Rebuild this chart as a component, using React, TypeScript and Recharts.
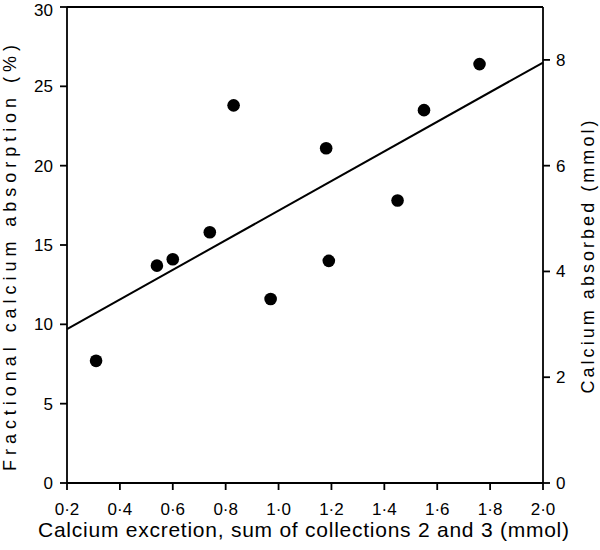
import React from "react";
import {
  ScatterChart,
  Scatter,
  XAxis,
  YAxis,
  ReferenceLine,
  Label,
} from "recharts";

// excretion (mmol) vs fractional absorption (%)
const excretion = [0.31, 0.54, 0.6, 0.74, 0.83, 0.97, 1.18, 1.19, 1.45, 1.55, 1.76];
const absorption = [7.7, 13.7, 14.1, 15.8, 23.8, 11.6, 21.1, 14.0, 17.8, 23.5, 26.4];

// regression line end points
const fitX = [0.2, 2.0];
const fitY = [9.7, 26.5];

const xTicks = [0.2, 0.4, 0.6, 0.8, 1.0, 1.2, 1.4, 1.6, 1.8, 2.0];
const leftTicks = [0, 5, 10, 15, 20, 25, 30];
const rightTicks = [0, 2, 4, 6, 8];

const points = excretion.map((x, i) => ({ x, y: absorption[i] }));

const FONT = '"Liberation Sans", Arial, Helvetica, sans-serif';
const axisLine = { stroke: "#000", strokeWidth: 1.8 };
const tickStyle = { fill: "#000", fontSize: 17, fontFamily: FONT };

const dot = (p: any) => <circle cx={p.cx} cy={p.cy} r={6.3} fill="#000" />;

const vTitle = (text: string, x: number, cy: number, len: number) => (
  <text
    x={x}
    y={cy}
    transform={`rotate(-90, ${x}, ${cy})`}
    textAnchor="middle"
    fontSize={18}
    textLength={len}
    lengthAdjust="spacing"
    fontFamily={FONT}
    fill="#000"
  >
    {text}
  </text>
);

export default function App() {
  return (
    <div style={{ position: "absolute", left: 0, top: 0, background: "#fff" }}>
      <ScatterChart width={600} height={550} margin={{ top: 7, right: 0, bottom: 0, left: 0 }}>
        <XAxis
          type="number"
          dataKey="x"
          domain={[0.2, 2.0]}
          ticks={xTicks}
          tickFormatter={(v) => Number(v).toFixed(1).replace(".", "\u00b7")}
          height={67}
          tickSize={7}
          tickMargin={13}
          axisLine={axisLine}
          tickLine={axisLine}
          tick={tickStyle}
        >
          <Label
            content={() => (
              <text
                x={303.5}
                y={537}
                textAnchor="middle"
                fontSize={21}
                textLength={531}
                lengthAdjust="spacing"
                fontFamily={FONT}
                fill="#000"
              >
                Calcium excretion, sum of collections 2 and 3 (mmol)
              </text>
            )}
          />
        </XAxis>
        <YAxis
          yAxisId="left"
          type="number"
          dataKey="y"
          domain={[0, 30]}
          ticks={leftTicks}
          width={67}
          tickSize={7}
          tickMargin={7}
          axisLine={axisLine}
          tickLine={axisLine}
          tick={tickStyle}
        >
          <Label content={() => vTitle("Fractional calcium absorption (%)", 16, 258, 426)} />
        </YAxis>
        <YAxis
          yAxisId="right"
          orientation="right"
          type="number"
          dataKey="y"
          domain={[0, 9]}
          allowDataOverflow
          ticks={rightTicks}
          width={57}
          tickSize={7}
          tickMargin={6}
          axisLine={axisLine}
          tickLine={axisLine}
          tick={tickStyle}
        >
          <Label content={() => vTitle("Calcium absorbed (mmol)", 594, 257, 273)} />
        </YAxis>
        <ReferenceLine yAxisId="right" y={9} stroke="#000" strokeWidth={1.8} />
        <ReferenceLine
          yAxisId="left"
          segment={[
            { x: fitX[0], y: fitY[0] },
            { x: fitX[1], y: fitY[1] },
          ]}
          stroke="#000"
          strokeWidth={2}
        />
        <Scatter yAxisId="left" data={points} shape={dot} isAnimationActive={false} />
      </ScatterChart>
    </div>
  );
}
